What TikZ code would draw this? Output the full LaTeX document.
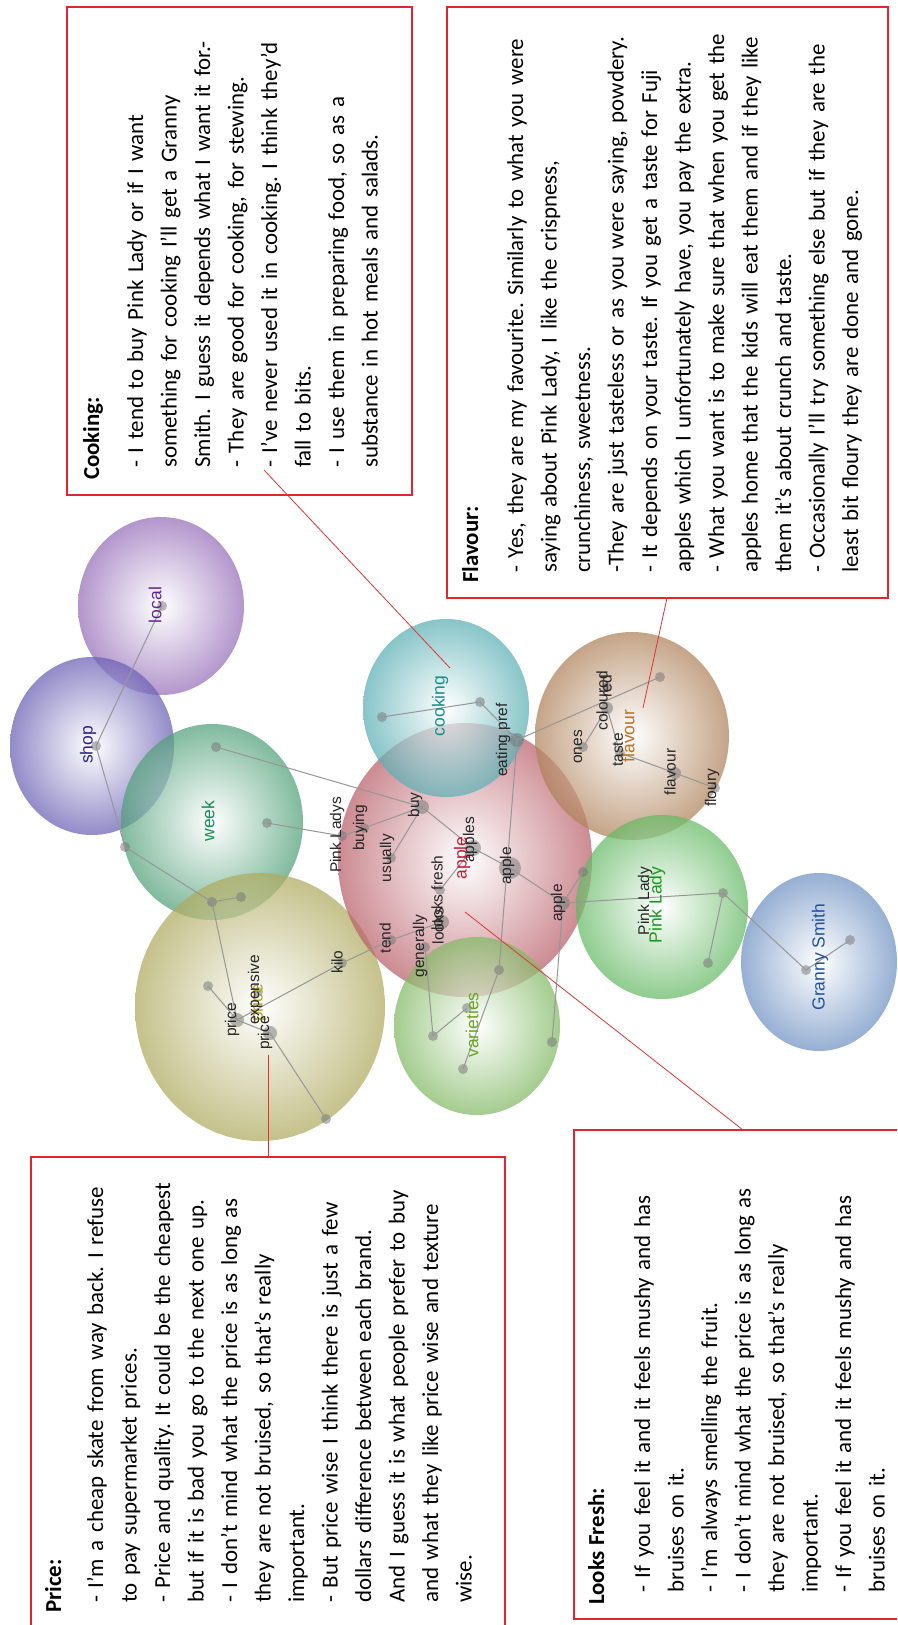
\documentclass[tikz,border=0pt]{standalone}
\usepackage{fontspec}
\setmainfont{Carlito}
\newfontfamily\grfont{Liberation Sans}
\frenchspacing
\definecolor{boxred}{RGB}{226,38,46}
\definecolor{pinred}{RGB}{222,52,52}
\definecolor{edgegray}{RGB}{150,150,150}
\definecolor{dotgray}{RGB}{115,115,115}
\definecolor{bublocal}{RGB}{150,110,185}
\definecolor{bubshop}{RGB}{105,95,180}
\definecolor{bubweek}{RGB}{80,160,120}
\definecolor{bubprice}{RGB}{175,170,95}
\definecolor{bubapple}{RGB}{185,95,105}
\definecolor{bubcook}{RGB}{90,175,180}
\definecolor{bubflav}{RGB}{175,130,90}
\definecolor{bubpink}{RGB}{100,185,100}
\definecolor{bubgranny}{RGB}{110,145,195}
\definecolor{bubvar}{RGB}{130,185,100}
\definecolor{lablocal}{RGB}{95,40,145}
\definecolor{labshop}{RGB}{40,35,140}
\definecolor{labweek}{RGB}{25,140,90}
\definecolor{labcook}{RGB}{25,140,140}
\definecolor{labflav}{RGB}{185,115,35}
\definecolor{labapple}{RGB}{195,30,50}
\definecolor{labpink}{RGB}{25,150,35}
\definecolor{labgranny}{RGB}{35,80,150}
\definecolor{labvar}{RGB}{105,165,35}
\definecolor{labprice}{RGB}{175,165,30}
\tikzset{
  box/.style   ={draw=boxred, line width=1.4pt},
  pin/.style   ={draw=pinred, line width=0.8pt},
  thead/.style ={rotate=90, anchor=base west, inner sep=0pt, font=\fontsize{22.9}{33.5}\selectfont\bfseries},
  tbody/.style ={rotate=90, anchor=base west, inner sep=0pt, text width=600pt, align=left,
                 font=\fontsize{22.9}{33.5}\selectfont},
  bub/.style   ={inner color=white, opacity=0.72},
  cat/.style   ={rotate=90, inner sep=0pt, font=\grfont\fontsize{17.5}{18}\selectfont},
  term/.style  ={rotate=90, inner sep=0pt, text=black!85, font=\grfont\fontsize{15.5}{16}\selectfont},
  dot/.style   ={circle, fill=dotgray, fill opacity=0.5, inner sep=0pt, minimum size=10pt},
  edge/.style  ={draw=edgegray, line width=1pt},
}
\begin{document}
\begin{tikzpicture}[x=1pt,y=-1pt]
  \useasboundingbox (0,0) rectangle (897,1625);
  \clip (0,0) rectangle (897,1625);
  \fill[white] (0,0) rectangle (897,1625);
  % bubbles
  \shade[bub,outer color=bublocal] (161,606) ellipse [x radius=83pt,y radius=89pt];
  \shade[bub,outer color=bubshop] (92,746) ellipse [x radius=82pt,y radius=89pt];
  \shade[bub,outer color=bubweek] (212,822) ellipse [x radius=91pt,y radius=98pt];
  \shade[bub,outer color=bubprice] (260,1007) ellipse [x radius=125pt,y radius=134pt];
  \shade[bub,outer color=bubapple] (465,860) ellipse [x radius=127pt,y radius=137pt];
  \shade[bub,outer color=bubcook] (446,708) ellipse [x radius=83pt,y radius=89pt];
  \shade[bub,outer color=bubflav] (632,736) ellipse [x radius=97pt,y radius=104pt];
  \shade[bub,outer color=bubpink] (662,907) ellipse [x radius=86pt,y radius=92pt];
  \shade[bub,outer color=bubgranny] (819,962) ellipse [x radius=78pt,y radius=89pt];
  \shade[bub,outer color=bubvar] (477,1026) ellipse [x radius=83pt,y radius=89pt];
  % dots
  \node[dot] (dlocal) at (162,606) {};
  \node[dot] (dshop) at (96,746) {};
  \node[dot] (dwkA) at (125,847) {};
  \node[dot] (dwkB) at (212,902) {};
  \node[dot] (dwkC) at (241,897) {};
  \node[dot] (dwkD) at (216,747) {};
  \node[dot] (dwkE) at (267,823) {};
  \node[dot] (dpladys) at (342,836) {};
  \node[dot] (dbuying) at (364,828) {};
  \node[dot,minimum size=14pt] (dbuy) at (422,807) {};
  \node[dot] (dusually) at (391,858) {};
  \node[dot] (dtend) at (391,940) {};
  \node[dot] (dkilo) at (342,963) {};
  \node[dot] (dgen) at (425,947) {};
  \node[dot,minimum size=14pt] (dlooks) at (442,922) {};
  \node[dot] (dfresh) at (440,890) {};
  \node[dot,minimum size=16pt] (dapples) at (473,848) {};
  \node[dot,minimum size=22pt] (dapple) at (510,868) {};
  \node[dot,minimum size=14pt] (dapplec) at (563,903) {};
  \node[dot] (dedge) at (583,872) {};
  \node[dot] (dcookA) at (382,717) {};
  \node[dot] (dcookB) at (480,702) {};
  \node[dot,minimum size=14pt] (deat) at (517,740) {};
  \node[dot] (dflavtop) at (660,677) {};
  \node[dot,minimum size=12pt] (dcol) at (607,708) {};
  \node[dot] (dred) at (607,687) {};
  \node[dot] (dones) at (583,747) {};
  \node[dot] (dtaste) at (620,753) {};
  \node[dot,minimum size=12pt] (dflav) at (675,773) {};
  \node[dot] (dfloury) at (715,788) {};
  \node[dot] (dpinkA) at (723,893) {};
  \node[dot] (dpinkB) at (708,963) {};
  \node[dot] (dgranA) at (806,970) {};
  \node[dot] (dgranB) at (850,940) {};
  \node[dot] (dpriceA) at (208,986) {};
  \node[dot,minimum size=14pt] (dprice) at (237,1020) {};
  \node[dot] (dexp) at (258,992) {};
  \node[dot,minimum size=14pt] (dpriceC) at (270,1033) {};
  \node[dot] (dpriceB) at (326,1119) {};
  \node[dot] (dvarA) at (433,1036) {};
  \node[dot] (dvarB) at (467,1008) {};
  \node[dot] (dvarC) at (463,1069) {};
  \node[dot] (dvarD) at (552,1042) {};
  \node[dot] (dappleD) at (499,970) {};
  % links
  \draw[edge] (dlocal.center) -- (dshop.center) -- (dwkA.center) -- (dwkB.center) -- (dwkC.center);
  \draw[edge] (dwkB.center) -- (dprice.center);
  \draw[edge] (dwkD.center) -- (dbuy.center);
  \draw[edge] (dwkE.center) -- (dpladys.center) -- (dbuying.center) -- (dbuy.center) -- (dusually.center);
  \draw[edge] (dbuy.center) -- (dapples.center) -- (dapple.center) -- (dapplec.center) -- (dedge.center);
  \draw[edge] (dfresh.center) -- (dapples.center);
  \draw[edge] (dapplec.center) -- (dpinkA.center) -- (dpinkB.center);
  \draw[edge] (dpinkA.center) -- (dgranA.center) -- (dgranB.center);
  \draw[edge] (dcookA.center) -- (dcookB.center) -- (deat.center) -- (dflavtop.center);
  \draw[edge] (deat.center) -- (dappleD.center) -- (dvarC.center);
  \draw[edge] (dones.center) -- (dcol.center) -- (dtaste.center) -- (dflav.center) -- (dfloury.center);
  \draw[edge] (dpriceA.center) -- (dprice.center) -- (dkilo.center) -- (dtend.center) -- (dlooks.center);
  \draw[edge] (dprice.center) -- (dpriceC.center) -- (dpriceB.center);
  \draw[edge] (dgen.center) -- (dvarA.center) -- (dvarB.center);
  \draw[edge] (dvarD.center) -- (dapplec.center);
  % category labels
  \node[cat,text=labprice] (lprice) at (258,1003) {price};
  \node[cat,text=lablocal] (llocal) at (155,605) {local};
  \node[cat,text=labshop] (lshop) at (88,745) {shop};
  \node[cat,text=labweek] (lweek) at (208,821) {week};
  \node[cat,text=labcook] (lcook) at (440,706) {cooking};
  \node[cat,text=labflav] (lflav) at (628,736) {flavour};
  \node[cat,text=labapple] (lapple) at (462,858) {apple};
  \node[cat,text=labgranny] (lgranny) at (820,957) {Granny Smith};
  \node[cat,text=labvar] (lvar) at (472,1025) {varieties};
  % terms
  \node[term] (tpladys) at (337,835) {Pink Ladys};
  \node[term] (tbuying) at (360,828) {buying};
  \node[term] (tbuy) at (415,805) {buy};
  \node[term] (tusually) at (387,858) {usually};
  \node[term] (tlooksf) at (437,893) {looks fresh};
  \node[term] (tlooks) at (438,926) {looks};
  \node[term] (tapples) at (470,840) {apples};
  \node[term] (tappleA) at (507,866) {apple};
  \node[term] (tappleB) at (558,903) {apple};
  \node[term] (teat) at (503,740) {eating pref};
  \node[term] (ttend) at (385,938) {tend};
  \node[term] (tgen) at (420,946) {generally};
  \node[term] (tkilo) at (337,962) {kilo};
  \node[term] (tcol) at (602,701) {coloured};
  \node[term] (tred) at (606,686) {red};
  \node[term] (tones) at (578,747) {ones};
  \node[term] (ttaste) at (618,750) {taste};
  \node[term] (tflav) at (670,772) {flavour};
  \node[term] (tfloury) at (712,788) {floury};
  \node[term] (tpink) at (645,901) {Pink Lady};
  \node[term] (tpriceA) at (232,1020) {price};
  \node[term] (texp) at (255,990) {expensive};
  \node[term] (tpriceB) at (265,1033) {price};
  \node[cat,text=labpink] (lpink) at (657,905) {Pink Lady};
  % boxes
  \draw[box] (67,7) rectangle (412,495);
  \draw[box] (447,7) rectangle (888,598);
  \draw[box] (31,1157) rectangle (505,1640);
  \draw[box] (574,1130) rectangle (910,1619);
  % pointers
  \coordinate (pcookA) at (264,470);
  \coordinate (pcookB) at (450,668);
  \coordinate (pflavA) at (667,598);
  \coordinate (pflavB) at (643,708);
  \coordinate (ppriceA) at (268,1157);
  \coordinate (ppriceB) at (268,1055);
  \coordinate (pfreshA) at (743,1130);
  \coordinate (pfreshB) at (465,912);
  \draw[pin] (pcookA) -- (pcookB);
  \draw[pin] (pflavA) -- (pflavB);
  \draw[pin] (ppriceA) -- (ppriceB);
  \draw[pin] (pfreshA) -- (pfreshB);
  % texts
  \node[thead] (cookhead) at (99,480) {Cooking:};
  \node[tbody] (cooktext) at (143,468) {- I tend to buy Pink Lady or if I want\\
    something for cooking I’ll get a Granny\\
    Smith. I guess it depends what I want it for.-\\
    - They are good for cooking, for stewing.\\
    - I’ve never used it in cooking. I think they’d\\
    fall to bits.\\
    - I use them in preparing food, so as a\\
    substance in hot meals and salads.};
  \node[thead] (flavhead) at (478,583) {Flavour:};
  \node[tbody] (flavtext) at (523,573) {- Yes, they are my favourite. Similarly to what you were\\
    saying about Pink Lady, I like the crispness,\\
    crunchiness, sweetness.\\
    -They are just tasteless or as you were saying, powdery.\\
    - It depends on your taste. If you get a taste for Fuji\\
    apples which I unfortunately have, you pay the extra.\\
    - What you want is to make sure that when you get the\\
    apples home that the kids will eat them and if they like\\
    them it’s about crunch and taste.\\
    - Occasionally I’ll try something else but if they are the\\
    least bit floury they are done and gone.};
  \node[thead] (pricehead) at (61,1613) {Price:};
  \node[tbody] (pricetext) at (103,1603) {- I’m a cheap skate from way back. I refuse\\
    to pay supermarket prices.\\
    - Price and quality. It could be the cheapest\\
    but if it is bad you go to the next one up.\\
    - I don’t mind what the price is as long as\\
    they are not bruised, so that’s really\\
    important.\\
    - But price wise I think there is just a few\\
    dollars difference between each brand.\\
    And I guess it is what people prefer to buy\\
    and what they like price wise and texture\\
    wise.};
  \node[thead] (freshhead) at (604,1605) {Looks Fresh:};
  \node[tbody] (freshtext) at (650,1593) {- If you feel it and it feels mushy and has\\
    bruises on it.\\
    - I’m always smelling the fruit.\\
    - I don’t mind what the price is as long as\\
    they are not bruised, so that’s really\\
    important.\\
    - If you feel it and it feels mushy and has\\
    bruises on it.};
\end{tikzpicture}
\end{document}
